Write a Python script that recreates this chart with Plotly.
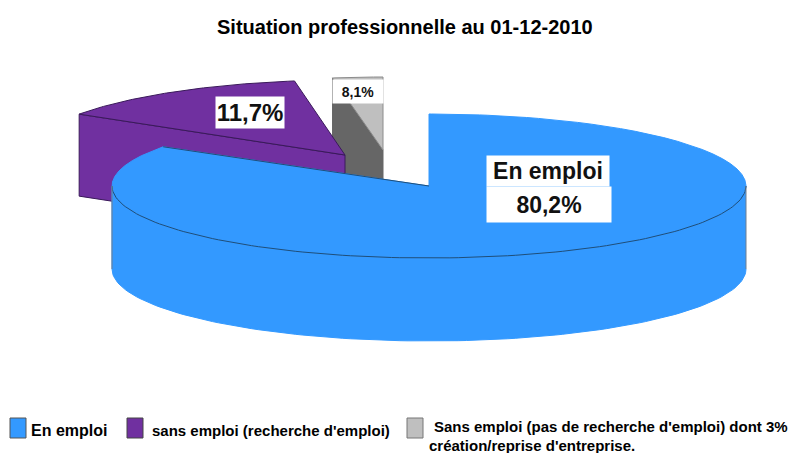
import numpy as np
import plotly.graph_objects as go

# Data
categories = ["En emploi", "sans emploi (recherche d'emploi)",
              "Sans emploi (pas de recherche d'emploi) dont 3%"]
category_third_line2 = "création/reprise d'entreprise."
shares = [80.2, 11.7, 8.1]
slice_labels = ["En emploi", "80,2%", "11,7%", "8,1%"]
colors = ["#3399FF", "#7030A0", "#BFBFBF"]
edge_colors = ["#1F4E79", "#3A1A5A", "#595959"]
wall_colors = ["#3399FF", "#7030A0", "#666666"]
title_text = "Situation professionnelle au 01-12-2010"

# Projection of the tilted pie (pixels of the page)
RX = 317
RYS = [72, 75, 73]
DEPTHS = [83, 82, 83]
centres = [(429, 186), (345, 155), (383, 150)]


def screen_angle(true_deg):
    """Foreshortening of the 3D pie: true sweep angle -> parametric ellipse angle."""
    return true_deg - 23.5 * np.sin(np.radians(2 * true_deg))


def rim(c, ry, a0, a1, n=120):
    t = np.radians(screen_angle(np.linspace(a0, a1, n)))
    return c[0] + RX * np.sin(t), c[1] - ry * np.cos(t)


cum = np.concatenate([[0], np.cumsum(shares)]) / sum(shares) * 360
a_blue = (cum[0], cum[1])
a_purple = (cum[1], cum[2])
a_grey = (cum[2], cum[3])

fig = go.Figure()


def poly(xs, ys, fill, line=None, width=1):
    fig.add_trace(go.Scatter(x=list(xs), y=list(ys), mode="lines", fill="toself",
                             fillcolor=fill, hoverinfo="skip", showlegend=False,
                             line=dict(color=line or fill, width=width)))


def wedge(c, ry, a0, a1, fill, line=None, width=1):
    x, y = rim(c, ry, a0, a1)
    poly(np.r_[c[0], x, c[0]], np.r_[c[1], y, c[1]], fill, line, width)


def stroke(xs, ys, color, width=1):
    fig.add_trace(go.Scatter(x=list(xs), y=list(ys), mode="lines", hoverinfo="skip",
                             showlegend=False, line=dict(color=color, width=width)))


# Grey slice (behind): cut wall then top
c, ry, d = centres[2], RYS[2], DEPTHS[2]
xr, yr = rim(c, ry, a_grey[0], a_grey[0], 1)
poly([xr[0], c[0], c[0], xr[0], xr[0]],
     [yr[0], c[1], c[1] + d, yr[0] + d, yr[0]], wall_colors[2])
wedge(c, ry, *a_grey, colors[2], "#8C8C8C")

# Purple slice: front cut wall then top
c, ry, d = centres[1], RYS[1], DEPTHS[1]
xr, yr = rim(c, ry, a_purple[0], a_purple[0], 1)
poly([xr[0], c[0], c[0], xr[0], xr[0]],
     [yr[0], c[1], c[1] + d, yr[0] + d, yr[0]], colors[1], edge_colors[1])
wedge(c, ry, *a_purple, colors[1], edge_colors[1])

# Blue slice: cylinder wall, then top, then the front rim line
c, ry, d = centres[0], RYS[0], DEPTHS[0]
deg = np.linspace(90, 270, 120)
xf, yf = c[0] + RX * np.sin(np.radians(deg)), c[1] - ry * np.cos(np.radians(deg))
poly(np.r_[xf, xf[::-1]], np.r_[yf, yf[::-1] + d], colors[0])
wedge(c, ry, *a_blue, colors[0])
xe, ye = rim(c, ry, a_blue[1], a_blue[1], 1)
stroke([c[0], xe[0]], [c[1], ye[0]], edge_colors[0])
stroke(xf, yf, edge_colors[0])
stroke([xf[0], xf[0]], [yf[0], yf[0] + d], "#6E7F91")
stroke([xf[-1], xf[-1]], [yf[-1], yf[-1] + d], "#6E7F91")

# Legend swatches
legend_x = [18, 135, 415]
legend_y = 428
legend_edges = ["#555555", "#444444", "#777777"]
shapes = [dict(type="rect", xref="x", yref="y", x0=lx - 8, x1=lx + 8,
               y0=legend_y - 10, y1=legend_y + 10, fillcolor=col,
               line=dict(color=edge, width=1))
          for lx, col, edge in zip(legend_x, colors, legend_edges)]

FONT = "Liberation Sans, Arial, sans-serif"
annotations = [
    dict(x=405, y=27, text=f"<b>{title_text}</b>", font=dict(size=20, color="black")),
    dict(x=548, y=171, text=f"<b>{slice_labels[0]}</b>", bgcolor="white", width=122, height=30,
         font=dict(size=23, color="#111111"), borderpad=0),
    dict(x=549, y=204, text=f"<b>{slice_labels[1]}</b>", bgcolor="white", width=124, height=35,
         font=dict(size=23, color="#111111"), borderpad=0),
    dict(x=250, y=112, text=f"<b>{slice_labels[2]}</b>", bgcolor="white", width=68, height=31,
         font=dict(size=24, color="#111111"), borderpad=0),
    dict(x=358, y=91, text=f"<b>{slice_labels[3]}</b>", bgcolor="white", width=50, height=23,
         font=dict(size=14, color="#111111"), borderpad=0),
    dict(x=29, y=430, text=f"<b>{categories[0]}</b>", xanchor="left",
         font=dict(size=16, color="black")),
    dict(x=150, y=430, text=f"<b>{categories[1]}</b>", xanchor="left",
         font=dict(size=15, color="black")),
    dict(x=432, y=426, text=f"<b>{categories[2]}</b>", xanchor="left",
         font=dict(size=15, color="black")),
    dict(x=427, y=445, text=f"<b>{category_third_line2}</b>", xanchor="left",
         font=dict(size=15, color="black")),
]
for a in annotations:
    a.update(xref="x", yref="y", showarrow=False)

fig.update_layout(
    width=788, height=453, margin=dict(l=0, r=0, t=0, b=0),
    paper_bgcolor="white", plot_bgcolor="white", font=dict(family=FONT),
    xaxis=dict(range=[0, 788], visible=False, fixedrange=True),
    yaxis=dict(range=[453, 0], visible=False, fixedrange=True),
    showlegend=False, annotations=annotations, shapes=shapes,
)
fig.write_html("out.html", config=dict(displayModeBar=False),
               post_script="document.body.style.margin='0';document.documentElement.style.overflow='hidden';")
